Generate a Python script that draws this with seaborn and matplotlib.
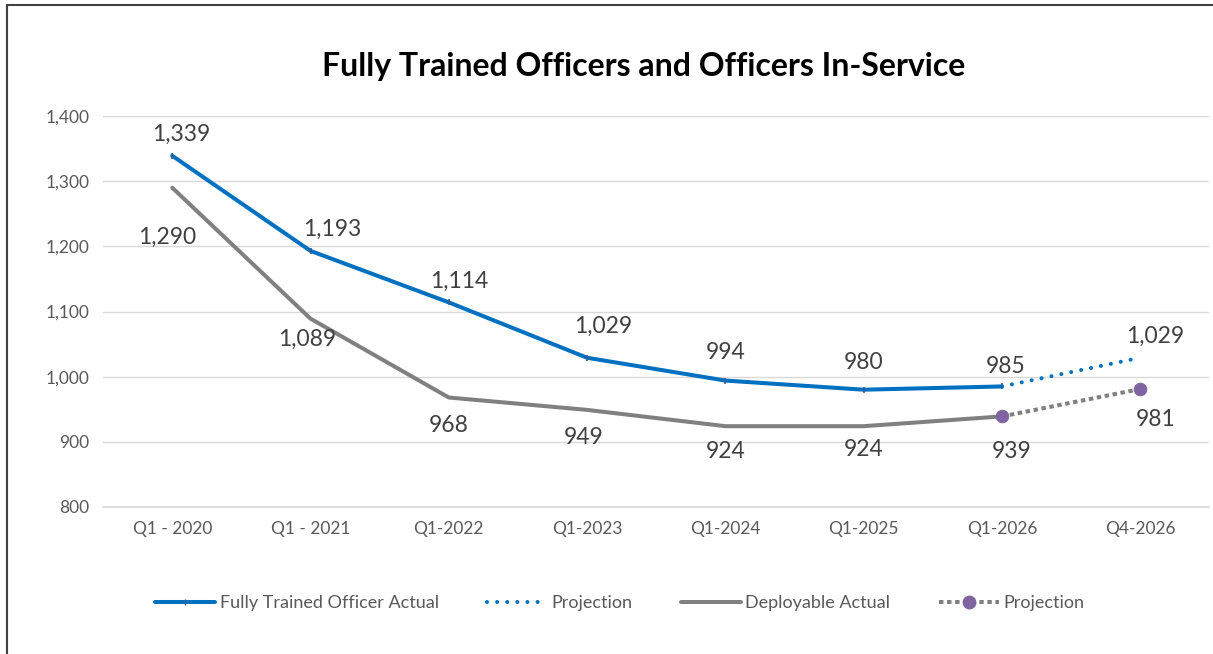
import numpy as np
import pandas as pd
import seaborn as sns
import matplotlib.pyplot as plt
from matplotlib.lines import Line2D
from matplotlib.patches import Rectangle

# --- DATA ---
quarters = ["Q1 - 2020", "Q1 - 2021", "Q1-2022", "Q1-2023", "Q1-2024", "Q1-2025", "Q1-2026", "Q4-2026"]
trained_actual = [1339, 1193, 1114, 1029, 994, 980, 985]
trained_proj = [985, 1029]
deploy_actual = [1290, 1089, 968, 949, 924, 924, 939]
deploy_proj = [939, 981]

blue = "#0070C0"
gray = "#808080"
purple = "#8064A2"
text_gray = "#595959"
lw = 2.9

sns.set_theme(style="white")
plt.rcParams["font.family"] = ["Lato", "DejaVu Sans"]

n_act = len(trained_actual)
df_act = pd.DataFrame({"x": np.arange(n_act), "trained": trained_actual, "deploy": deploy_actual})
df_proj = pd.DataFrame({"x": np.arange(n_act - 1, len(quarters)), "trained": trained_proj, "deploy": deploy_proj})

fig = plt.figure(figsize=(12.13, 6.54), dpi=100)
ax = fig.add_axes([0.085, 0.2248, 0.912, 0.5978])

blue_dots = (0, (0.01, 2.5))
gray_dots = (0, (1.1, 0.9))

sns.lineplot(data=df_act, x="x", y="trained", ax=ax, color=blue, linewidth=lw,
             marker="|", markersize=5, markeredgecolor="#3B5C8C", markeredgewidth=1.2)
sns.lineplot(data=df_proj, x="x", y="trained", ax=ax, color=blue, linewidth=lw,
             linestyle=blue_dots, dash_capstyle="round")
sns.lineplot(data=df_act, x="x", y="deploy", ax=ax, color=gray, linewidth=lw)
sns.lineplot(data=df_proj, x="x", y="deploy", ax=ax, color=gray, linewidth=lw,
             linestyle=gray_dots, marker="o", markersize=9,
             markerfacecolor=purple, markeredgecolor=purple)

# --- DATA LABELS (offsets in pixels, as placed in the original) ---
trained_vals = trained_actual + trained_proj[1:]
deploy_vals = deploy_actual + deploy_proj[1:]
trained_off = [(9, 21), (22, 22), (10, 21), (16, 31), (0, 28), (0, 27), (4, 20), (15, 21)]
deploy_off = [(-5, -50), (-3, -21), (0, -28), (-3, -28), (0, -25), (0, -23), (10, -35), (15, -30)]
lab_kw = dict(textcoords="offset pixels", ha="center", va="center", fontsize=16.5, color="#404040")
for i, v in enumerate(trained_vals):
    ax.annotate(f"{v:,}", (i, v), xytext=trained_off[i], **lab_kw)
for i, v in enumerate(deploy_vals):
    ax.annotate(f"{v:,}", (i, v), xytext=deploy_off[i], **lab_kw)

# --- AXES ---
ax.set_xlim(-0.5, len(quarters) - 0.5)
ax.set_ylim(800, 1400)
ax.set_yticks(range(800, 1401, 100))
ax.set_yticklabels([f"{t:,}" for t in range(800, 1401, 100)])
ax.set_xticks(range(len(quarters)))
ax.set_xticklabels(quarters)
ax.set_xlabel("")
ax.set_ylabel("")
ax.yaxis.grid(True, color="#D9D9D9", linewidth=1)
ax.xaxis.grid(False)
for side in ["top", "right", "left"]:
    ax.spines[side].set_visible(False)
ax.spines["bottom"].set_color("#D9D9D9")
ax.tick_params(axis="both", colors=text_gray, labelsize=12.5, length=0, pad=10)

fig.text(0.531, 0.898, "Fully Trained Officers and Officers In-Service",
         ha="center", va="center", fontsize=23, fontweight="bold", color="black")

# --- LEGEND ---
handles = [
    Line2D([], [], color=blue, linewidth=lw, marker="|", markersize=5,
           markeredgecolor="#3B5C8C"),
    Line2D([], [], color=blue, linewidth=lw, linestyle=blue_dots, dash_capstyle="round"),
    Line2D([], [], color=gray, linewidth=lw),
    Line2D([], [], color=gray, linewidth=lw, linestyle=gray_dots, marker="o",
           markersize=9, markerfacecolor=purple, markeredgecolor=purple),
]
labels = ["Fully Trained Officer Actual", "Projection", "Deployable Actual", "Projection"]
fig.legend(handles, labels, loc="center", bbox_to_anchor=(0.511, 0.078), ncol=4,
           frameon=False, fontsize=13, handlelength=3.3, handletextpad=0.25,
           columnspacing=2.7, labelcolor=text_gray)

# border
fig.patches.append(Rectangle((0.006, -0.01), 1.2, 1.002, transform=fig.transFigure,
                             fill=False, edgecolor="#404040", linewidth=1.5))

fig.savefig("out.png", dpi=100)
